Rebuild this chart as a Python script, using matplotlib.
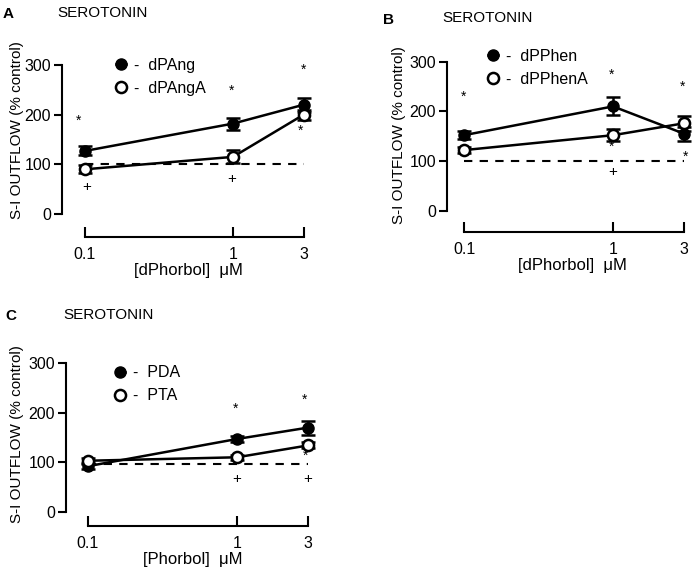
import numpy as np
import matplotlib.pyplot as plt

plt.rcParams['font.family'] = ['Liberation Sans', 'DejaVu Sans']

conc = [0.1, 1, 3]
baseline = [100, 100, 97]

# panel A
a_names = ['dPAng', 'dPAngA']
a_filled = [127, 182, 220]
a_filled_err = [9, 12, 14]
a_open = [90, 115, 200]
a_open_err = [8, 13, 10]
a_star_x = [0.09, 0.98, 3.0, 2.85]
a_star_y = [188, 248, 290, 168]
a_plus_x = [0.103, 0.98]
a_plus_y = [55, 70]

# panel B
b_names = ['dPPhen', 'dPPhenA']
b_filled = [152, 210, 155]
b_filled_err = [8, 18, 14]
b_open = [122, 152, 176]
b_open_err = [6, 12, 15]
b_star_x = [0.1, 0.98, 0.98, 2.95, 3.05]
b_star_y = [229, 273, 128, 250, 108]
b_plus_x = [1.0]
b_plus_y = [78]

# panel C
c_names = ['PDA', 'PTA']
c_filled = [92, 147, 170]
c_filled_err = [5, 6, 14]
c_open = [103, 110, 134]
c_open_err = [5, 5, 6]
c_star_x = [0.98, 2.85, 2.9]
c_star_y = [208, 226, 113]
c_plus_x = [1.0, 3.0]
c_plus_y = [66, 66]

W, H = 697, 581
fig = plt.figure(figsize=(W / 100, H / 100), dpi=100)


def make_ax(left, right, top, bottom, x1px, decade, xaxis_off):
    ax = fig.add_axes([left / W, 1 - bottom / H, (right - left) / W, (bottom - top) / H])
    ax.set_xscale('log')
    ax.set_xlim(10 ** ((left - x1px) / decade), 10 ** ((right - x1px) / decade))
    ax.set_ylim(0, 300)
    ax.spines['top'].set_visible(False)
    ax.spines['right'].set_visible(False)
    ax.spines['left'].set_linewidth(1.5)
    ax.spines['bottom'].set_linewidth(1.5)
    ax.spines['left'].set_bounds(0, 300)
    ax.spines['bottom'].set_bounds(0.1, 3)
    ax.spines['bottom'].set_position(('outward', xaxis_off * 0.72))
    ax.set_yticks([0, 100, 200, 300])
    ax.set_xticks(conc)
    ax.set_xticklabels(['0.1', '1', '3'])
    ax.xaxis.set_minor_locator(plt.NullLocator())
    ax.tick_params(axis='x', direction='in', length=7, width=1.5, labelsize=11.5, pad=7)
    ax.tick_params(axis='y', direction='out', length=6, width=1.5, labelsize=11.5, pad=2)
    ax.patch.set_visible(False)
    return ax


def draw(ax, names, filled, ferr, opn, oerr, base, sx, sy, px, py, xlabel, leg_pos, ylab_pos):
    ax.hlines(base, 0.1, 3, colors='black', linestyles=(0, (4, 3.5)), linewidth=1.5)
    ax.errorbar(conc, filled, yerr=ferr, color='black', marker='o', ms=8,
                mfc='black', mec='black', lw=1.8, capsize=5, capthick=1.8,
                elinewidth=1.8, clip_on=False, zorder=3, label='-  ' + names[0])
    ax.errorbar(conc, opn, yerr=oerr, color='black', marker='o', ms=8,
                mfc='white', mec='black', mew=1.8, lw=1.8, capsize=5, capthick=1.8,
                elinewidth=1.8, clip_on=False, zorder=4, label='-  ' + names[1])
    for x, y in zip(sx, sy):
        ax.text(x, y, '*', ha='center', va='center', fontsize=10, clip_on=False)
    for x, y in zip(px, py):
        ax.text(x, y, '+', ha='center', va='center', fontsize=11, clip_on=False)
    ax.set_xlabel(xlabel + '  \u03bcM', fontsize=12, labelpad=1)
    ax.set_ylabel('S-I OUTFLOW (% control)', fontsize=11)
    ax.yaxis.set_label_coords(*ylab_pos)
    h, l = ax.get_legend_handles_labels()
    h = [hh[0] for hh in h]
    ax.legend(h, l, loc='upper left', bbox_to_anchor=leg_pos, frameon=False,
              handlelength=0.6, handletextpad=0.5, fontsize=11.5,
              labelspacing=0.5, borderaxespad=0)


axA = make_ax(62, 315, 65, 214, 233, 148, 23)
draw(axA, a_names, a_filled, a_filled_err, a_open, a_open_err, baseline[0],
     a_star_x, a_star_y, a_plus_x, a_plus_y, '[dPhorbol]', (0.19, 1.09), (-0.15, 0.56))
axB = make_ax(447, 697, 61.7, 210.7, 613, 149, 21.5)
draw(axB, b_names, b_filled, b_filled_err, b_open, b_open_err, baseline[1],
     b_star_x, b_star_y, b_plus_x, b_plus_y, '[dPhorbol]', (0.14, 1.13), (-0.164, 0.51))
axC = make_ax(66, 320, 363.3, 511.7, 237, 149, 14.5)
draw(axC, c_names, c_filled, c_filled_err, c_open, c_open_err, baseline[2],
     c_star_x, c_star_y, c_plus_x, c_plus_y, '[Phorbol]', (0.17, 1.03), (-0.165, 0.52))

fig.text(3 / W, 1 - 14 / H, 'A', fontsize=11, fontweight='bold', va='center')
fig.text(57 / W, 1 - 13 / H, 'SEROTONIN', fontsize=11, va='center')
fig.text(383 / W, 1 - 20 / H, 'B', fontsize=11, fontweight='bold', va='center')
fig.text(442 / W, 1 - 18 / H, 'SEROTONIN', fontsize=11, va='center')
fig.text(5 / W, 1 - 316 / H, 'C', fontsize=11, fontweight='bold', va='center')
fig.text(63 / W, 1 - 315 / H, 'SEROTONIN', fontsize=11, va='center')

fig.savefig('out.png', dpi=100)
